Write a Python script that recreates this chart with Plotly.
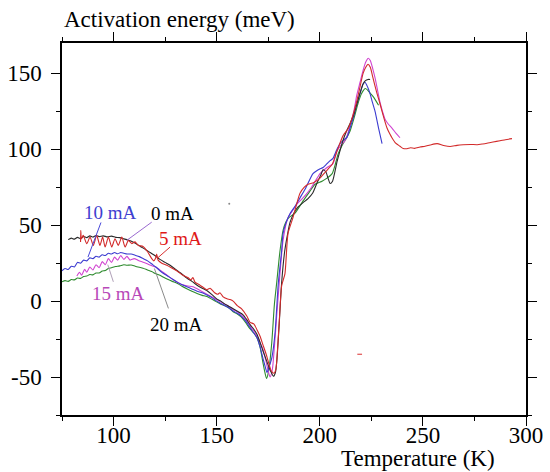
import plotly.graph_objects as go

# ---------------- data (Temperature K, Activation energy meV) ----------------
curve_0mA = [(78, 40.5), (79.5, 41.5), (81, 40.8), (82.5, 42), (84, 41.2), (85.5, 42.6), (87, 41.8),
             (88.5, 43), (90, 42.2), (91.5, 43.2), (93, 42.5), (95, 43), (97, 42.3), (99, 42.8),
             (101, 42), (103, 41.8), (105, 41), (107, 40.2), (109.4, 39), (111, 37.8), (113, 36),
             (115.5, 34), (117.7, 32), (120, 30), (122.5, 27.5), (125, 25.5), (127.4, 23.6), (130, 21),
             (132.5, 18.5), (135.7, 15), (138, 13), (140.5, 10.5), (143, 8.5), (145.2, 7), (148, 4),
             (150, 1.5), (152, 0), (154, -2), (156, -3.5), (158, -5), (160.5, -7), (162.8, -9),
             (164.5, -12), (166.2, -15.5), (168, -18.5), (169.6, -22), (171, -27), (172.5, -33),
             (174, -38.5), (175.5, -44), (176.5, -47), (177.5, -49.5), (178.5, -47), (179.2, -39),
             (180.2, -18), (181.5, 12), (183, 33), (184.5, 45), (185.6, 52), (187.5, 58), (189.5, 62),
             (192, 65), (194.3, 67.5), (196.5, 71), (198.7, 78), (200.5, 83), (201.6, 86.5), (203, 85),
             (204, 81), (205, 77.5), (206.2, 79), (207.3, 85), (208.4, 92), (210, 100), (211.3, 106),
             (213, 112), (214.7, 117), (216.5, 123), (218, 130), (219.5, 137), (221, 143), (222, 145),
             (223.4, 146), (224.4, 146)]

curve_5mA = [(84.0, 39), (84.1, 46.6), (84.4, 41), (85.3, 43.3), (87, 37.8), (88.6, 42.2), (90.2, 36.7),
             (91.8, 43.3), (93.4, 36.7), (94.7, 42.2), (95.9, 35.6), (97.5, 42.2), (99.1, 35.6),
             (100.7, 41.1), (102.3, 36.7), (104, 42.2), (105.6, 35.6), (107.2, 40), (108.8, 37.9),
             (110.4, 39), (112, 36.7), (114.3, 36), (116.5, 32.5), (118.5, 28), (119.5, 26.5),
             (120.3, 28), (120.9, 31), (121.6, 27), (123.4, 25), (125.8, 23.6), (128, 22), (130.6, 20),
             (133.7, 17), (136, 15.5), (137.5, 14), (138.5, 15.5), (139.5, 12.5), (141.9, 10.5),
             (143.5, 9), (145.2, 7.5), (146.8, 8.5), (149, 5.5), (150.5, 4.5), (151.6, 5.5), (153, 3),
             (155, 1.5), (156.5, 1), (158, 0), (160, -3), (162, -5), (164.7, -10), (166.2, -14),
             (168, -15), (169.6, -19), (171, -23), (172.5, -29), (174, -35), (175.5, -42), (176.5, -46),
             (177.8, -47.5), (178.7, -45), (179.5, -32), (180.5, -10), (181.5, 10), (183.1, 18),
             (184.6, 44.6), (187, 55), (190.4, 71), (192.5, 75), (194.3, 77), (197, 78), (200.1, 81),
             (202, 84), (204, 87), (206, 90), (208.4, 99), (211.3, 109), (213.7, 113.5), (216, 122),
             (218, 132), (219.5, 141), (221, 150), (222.3, 154), (223.4, 156), (224.5, 154),
             (225.8, 147), (227.5, 138), (229.2, 130), (231, 121), (232.6, 114), (234, 110),
             (235, 107.6), (236.8, 104), (238.9, 102), (240.5, 100.5), (242.3, 100.4), (244, 101),
             (246, 100.6), (248.6, 101.5), (251, 102), (253.5, 102.8), (256.9, 103.7), (260, 102.5),
             (263.2, 101.8), (266.5, 102.6), (269.5, 103), (273, 103.2), (276.3, 103), (279, 103.5),
             (281.1, 104), (284, 104.8), (287.4, 105.6), (290, 106.3), (293.2, 107)]

curve_10mA = [(75, 20), (76.5, 21.5), (78, 20.8), (79.5, 23), (81, 22.5), (82.5, 25.5), (84, 25),
              (85.5, 27), (87, 26.5), (88.5, 28.5), (90, 28), (91.5, 29.5), (93, 29), (94.5, 30.5),
              (96, 30), (97.5, 31.5), (99, 31), (100.5, 32), (102, 31.2), (103.5, 32), (105, 31.5),
              (106.5, 31), (108.5, 31), (110.5, 30.2), (112.5, 29.3), (114.3, 28), (116.5, 26.5),
              (119, 24), (120.5, 22.5), (122.5, 20), (125, 17.5), (127.5, 15.5), (130.8, 12.5),
              (133, 11), (135.5, 9.5), (138, 8), (140.5, 6.5), (143, 5.5), (145.3, 4), (148, 2),
              (150, 0), (152, -1.5), (154, -3), (156, -4.5), (158, -6.5), (160, -8), (162, -10),
              (164, -13), (166, -17), (168, -21), (169.5, -24), (171, -30), (172.5, -38), (173.5, -43),
              (174.4, -47), (175.5, -43), (176.8, -37), (178.3, -21), (179.9, 12), (181.5, 33),
              (182.2, 44.6), (183.5, 51), (185.6, 57.7), (188, 62.5), (190.4, 68), (193, 74),
              (196.7, 84), (198.7, 86), (200, 87), (201.6, 88), (203.5, 90.5), (205, 92.5),
              (206.4, 94), (208, 99), (209.8, 103.7), (211.5, 106), (213.2, 108), (214.7, 114),
              (216.5, 122), (218, 130), (219.5, 136.5), (221, 143), (222, 144), (223.2, 141),
              (224.4, 136.5), (225.5, 131), (226.8, 125), (228.5, 114), (230.2, 103.7)]

curve_15mA = [(82.2, 16.5), (83.5, 19), (84.5, 17), (86, 21), (87, 19), (88.5, 22.5), (90, 20.5),
              (91.5, 24), (93, 22), (94.5, 26), (96, 24), (97.5, 28), (99, 25.5), (100.5, 29),
              (102, 27), (103.5, 30), (105, 27.5), (106.5, 29.5), (108, 27), (110, 28), (112, 26.8),
              (114, 25.8), (116, 24.8), (118, 23.6), (121, 22), (124, 19), (127, 16), (130, 13.2),
              (133, 11), (136, 10), (138.5, 9.4), (142, 7), (145.3, 4.6), (148, 2.5), (150, 1),
              (152, -0.5), (154, -2), (156, -3.5), (158, -5.5), (160, -7), (162, -9), (164, -12),
              (166, -16), (168, -19.5), (169.5, -23), (171, -27), (172.5, -32), (174, -40), (175, -46),
              (175.9, -50), (177, -45), (178, -30), (179.1, -10), (180.7, 18), (182.2, 40),
              (184.6, 55), (187, 60), (189, 64), (191.5, 67.5), (193.8, 71), (196, 75), (198.7, 81),
              (200.1, 84), (203.5, 88), (206.4, 90.5), (208.4, 99), (210.5, 103), (212.2, 105.6),
              (213.5, 110), (215, 117), (216.5, 125), (218, 136), (219.5, 144), (221, 152),
              (222.3, 157.5), (223.5, 160), (224.5, 158.5), (225.7, 153), (226.8, 147), (228, 139),
              (229.2, 131), (230.4, 125), (231.6, 120), (233, 117), (235, 114), (237, 110.5),
              (238.9, 107.6)]

curve_20mA = [(75, 12.7), (76.5, 13.5), (78, 13), (79.5, 14.2), (81, 14), (82.5, 15.2), (84, 15),
              (85.5, 16.2), (87, 16.5), (88.5, 17.5), (90, 17.3), (91.5, 18.5), (93, 18.5),
              (94.5, 19.8), (96, 20.2), (97.5, 21.5), (99, 22), (101, 22.8), (103, 23.2), (105, 24),
              (106.5, 23.6), (108.5, 23.8), (110.5, 23), (112.5, 22.3), (114.3, 21.7), (116.5, 20.5),
              (118.5, 19.5), (120.5, 18), (122.5, 17), (124.5, 15.5), (126.5, 14.2), (128.5, 13),
              (130.8, 11.8), (133, 10), (135.5, 8.2), (138, 6.5), (140.5, 5), (143, 3.8), (145.3, 3),
              (148, 1), (150, -0.5), (152, -2), (154, -3), (156, -4.5), (158, -7), (160, -8.5),
              (162, -10.5), (164, -14), (166, -18), (168, -21), (169.5, -24), (171, -30),
              (172.5, -41), (173.4, -47), (174.2, -51), (175.2, -46), (176.7, -27.6), (178, -2),
              (179.1, 12), (180.7, 33), (182.2, 46.6), (183.5, 52), (185, 55), (188, 58),
              (191.9, 66), (194.5, 71), (197.7, 77), (201.1, 79), (203.5, 81), (206, 84),
              (207.5, 90), (208.9, 97), (211, 103), (213.2, 108), (214.7, 112), (216.5, 120),
              (218.5, 130), (220, 136), (221, 138.5), (222, 140), (223.2, 139), (224.4, 137),
              (226, 134.5), (228.5, 129)]

# label leader lines (T, E) start -> end
leader_10mA = [(93.9, 51.8), (87.6, 29)]
leader_0mA = [(118.5, 52), (106.4, 40)]
leader_5mA = [(127.4, 35.6), (121, 28)]
leader_15mA = [(99.9, 12.7), (97.2, 24)]
leader_20mA = [(126.6, -4.8), (119.8, 21.5)]

# small stray marks in the original figure
stray_red = [(218.2, -35), (220.5, -35)]
stray_dot = [(156.1, 64.1)]

labels = ["0 mA", "5 mA", "10 mA", "15 mA", "20 mA"]
label_pos = [(128.8, 57.7), (132.7, 41.3), (98.3, 58.4), (102.6, 5.2), (130.3, -15.1)]

x_range = [75, 300]
y_range = [-75, 170]
x_ticks = [100, 150, 200, 250, 300]
y_ticks = [-50, 0, 50, 100, 150]

# ---------------- styling ----------------
colors = {"0 mA": "#2a2a2a", "5 mA": "#d22a2a", "10 mA": "#3b3bd0",
          "15 mA": "#d044d0", "20 mA": "#2e8b2e"}
label_colors = {"0 mA": "#000000", "5 mA": "#e01818", "10 mA": "#4040d0",
                "15 mA": "#b848b8", "20 mA": "#000000"}
SERIF = "Liberation Serif"


def unzip(pairs):
    return [p[0] for p in pairs], [p[1] for p in pairs]


fig = go.Figure()

sdict = {"0 mA": curve_0mA, "5 mA": curve_5mA, "10 mA": curve_10mA,
         "15 mA": curve_15mA, "20 mA": curve_20mA}
order = ["20 mA", "15 mA", "10 mA", "0 mA", "5 mA"]
for name in order:
    xs, ys = unzip(sdict[name])
    fig.add_trace(go.Scatter(x=xs, y=ys, mode="lines", name=name,
                             line=dict(color=colors[name], width=1.1, shape="spline", smoothing=0.6),
                             hoverinfo="skip"))

leaders = [(leader_10mA, "#4848d8"), (leader_0mA, "#9a6ad0"), (leader_5mA, "#d83030"),
           (leader_15mA, "#b0a0b8"), (leader_20mA, "#8a8a8a")]
for seg, c in leaders:
    xs, ys = unzip(seg)
    fig.add_trace(go.Scatter(x=xs, y=ys, mode="lines", line=dict(color=c, width=1),
                             hoverinfo="skip"))

xs, ys = unzip(stray_red)
fig.add_trace(go.Scatter(x=xs, y=ys, mode="lines", line=dict(color="#e05050", width=1.2),
                         hoverinfo="skip"))
xs, ys = unzip(stray_dot)
fig.add_trace(go.Scatter(x=xs, y=ys, mode="markers", marker=dict(color="#888888", size=2),
                         hoverinfo="skip"))

annotations = []
for lab, (tx, ty) in zip(labels, label_pos):
    annotations.append(dict(x=tx, y=ty, xref="x", yref="y", text=lab, showarrow=False,
                            font=dict(family=SERIF, size=19, color=label_colors[lab]),
                            xanchor="center", yanchor="middle"))
annotations.append(dict(x=0.0, y=1.062, xref="paper", yref="paper",
                        text="Activation energy (meV)", showarrow=False,
                        font=dict(family=SERIF, size=23, color="#000000"),
                        xanchor="left", yanchor="middle"))
annotations.append(dict(x=0.767, y=-0.118, xref="paper", yref="paper",
                        text="Temperature (K)", showarrow=False,
                        font=dict(family=SERIF, size=23, color="#000000"),
                        xanchor="center", yanchor="middle"))

axis_common = dict(ticks="outside", ticklen=9, tickwidth=1, tickcolor="#000",
                   showline=True, linecolor="#000", linewidth=1.5, mirror="allticks",
                   showgrid=False, zeroline=False, automargin=False,
                   tickfont=dict(family=SERIF, size=23, color="#000"),
                   minor=dict(ticks="outside", ticklen=4, tickwidth=1, tickcolor="#000",
                              dtick=25, tick0=0, showgrid=False))

fig.update_layout(
    width=550, height=472,
    margin=dict(l=62, r=24, t=43, b=57, autoexpand=False),
    paper_bgcolor="white", plot_bgcolor="white",
    font=dict(family=SERIF, color="#000"),
    showlegend=False, hovermode=False,
    annotations=annotations,
    xaxis=dict(range=x_range, tickvals=x_ticks, ticktext=[str(v) for v in x_ticks],
               ticklabelstandoff=-10, **axis_common),
    yaxis=dict(range=y_range, tickvals=y_ticks, ticktext=[str(v) for v in y_ticks],
               ticklabelstandoff=5, **axis_common),
)

fig.write_html("out.html", config={"displayModeBar": False},
               post_script="document.body.style.margin='0';document.body.style.padding='0';"
                           "document.body.style.overflow='hidden';")
